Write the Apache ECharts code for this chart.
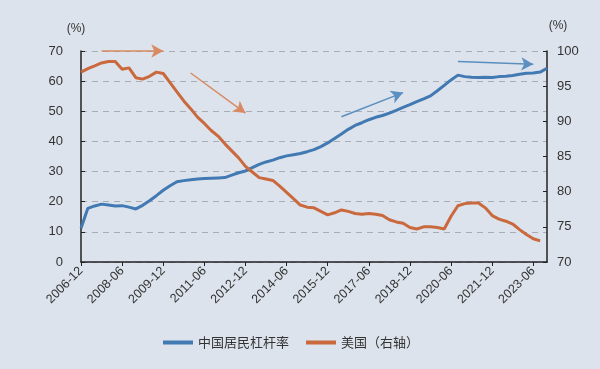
<!DOCTYPE html>
<html>
<head>
<meta charset="utf-8">
<script src="https://cdn.jsdelivr.net/npm/echarts@6/dist/echarts.min.js"></script>
<style>
html,body{margin:0;padding:0;background:#dde3ec;}
#c{width:600px;height:369px;}
</style>
</head>
<body>
<div id="c"></div>
<script>
const categories = [
'2006-12','2007-03','2007-06','2007-09','2007-12','2008-03','2008-06','2008-09','2008-12',
'2009-03','2009-06','2009-09','2009-12','2010-03','2010-06','2010-09','2010-12',
'2011-03','2011-06','2011-09','2011-12','2012-03','2012-06','2012-09','2012-12',
'2013-03','2013-06','2013-09','2013-12','2014-03','2014-06','2014-09','2014-12',
'2015-03','2015-06','2015-09','2015-12','2016-03','2016-06','2016-09','2016-12',
'2017-03','2017-06','2017-09','2017-12','2018-03','2018-06','2018-09','2018-12',
'2019-03','2019-06','2019-09','2019-12','2020-03','2020-06','2020-09','2020-12',
'2021-03','2021-06','2021-09','2021-12','2022-03','2022-06','2022-09','2022-12',
'2023-03','2023-06','2023-09','2023-12'
];
const chinaLeverage = [
11.2,17.8,18.6,19.2,18.9,18.6,18.7,18.2,17.6,
18.8,20.3,22.0,23.8,25.3,26.6,27.0,27.3,
27.5,27.7,27.8,27.9,28.0,28.8,29.6,30.2,
31.3,32.4,33.2,33.8,34.6,35.2,35.6,36.0,
36.6,37.3,38.3,39.5,41.0,42.5,44.0,45.3,
46.2,47.2,48.0,48.6,49.4,50.3,51.3,52.2,
53.2,54.1,55.1,56.8,58.6,60.4,62.0,61.5,
61.3,61.2,61.3,61.2,61.5,61.6,61.9,62.3,
62.6,62.7,63.0,64.3
];
const usLeverage = [
97.0,97.5,97.9,98.3,98.5,98.5,97.4,97.6,96.2,
96.0,96.4,97.0,96.8,95.5,94.2,92.9,91.8,
90.6,89.7,88.7,87.9,86.8,85.8,84.8,83.6,
82.8,82.0,81.8,81.6,80.8,79.9,79.0,78.1,
77.8,77.7,77.2,76.7,77.0,77.4,77.2,76.9,
76.8,76.9,76.8,76.6,76.0,75.7,75.5,74.9,
74.7,75.0,75.0,74.9,74.7,76.5,78.0,78.3,
78.4,78.4,77.7,76.6,76.1,75.8,75.4,74.6,
73.9,73.3,73.0,null
];
const leftTicks = {min:0, max:70, interval:10};
const rightTicks = {min:70, max:100, interval:5};
const seriesNames = ['中国居民杠杆率','美国（右轴）'];
// trend arrows: [fromCategory, fromLeftValue, toCategory, toLeftValue, colorKey]
const arrows = [
  ['2007-09',70,'2009-12',70,'o'],
  ['2010-12',62.7,'2012-12',49.4,'o'],
  ['2016-06',48.2,'2018-09',56.2,'b'],
  ['2020-09',66.5,'2023-06',65.6,'b']
];

const BLUE = '#4179b3', ORANGE = '#c9693d';
const ARROW_COL = {o:'#d98a62', b:'#5a8fc0'};
const chart = echarts.init(document.getElementById('c'), null, {renderer:'canvas'});
const font = 'Liberation Sans, Arial, sans-serif';
chart.setOption({
  animation:false,
  backgroundColor:'#dde3ec',
  grid:{left:81, right:53, top:51, bottom:107},
  legend:{
    bottom:15, left:158, itemGap:17, itemWidth:30, itemHeight:4, icon:'rect',
    textStyle:{color:'#333', fontSize:13, fontFamily:'Noto Sans CJK SC'},
    data:seriesNames
  },
  xAxis:{
    type:'category', data:categories, boundaryGap:false,
    axisLine:{lineStyle:{color:'#222', width:1.5}},
    axisTick:{interval:5, length:4, lineStyle:{color:'#222'}},
    axisLabel:{interval:5, rotate:45, color:'#333', fontSize:12.5, fontFamily:font, margin:7},
    splitLine:{show:false}
  },
  yAxis:[
    {type:'value', min:leftTicks.min, max:leftTicks.max, interval:leftTicks.interval,
     name:'(%)', nameGap:16, nameTextStyle:{color:'#333', fontSize:12, align:'center', padding:[0,0,0,-10]},
     axisLine:{show:true, lineStyle:{color:'#222', width:1.5}},
     axisTick:{show:true, inside:true, length:4, lineStyle:{color:'#222'}},
     axisLabel:{color:'#333', fontSize:13, fontFamily:font, margin:18},
     splitLine:{show:true, lineStyle:{color:'#a8acb4', type:[6,5], width:1}}},
    {type:'value', min:rightTicks.min, max:rightTicks.max, interval:rightTicks.interval,
     name:'(%)', nameGap:19, nameTextStyle:{color:'#333', fontSize:12, align:'center', padding:[0,-22,0,0]},
     axisLine:{show:true, lineStyle:{color:'#222', width:1.5}},
     axisTick:{show:true, inside:true, length:4, lineStyle:{color:'#222'}},
     axisLabel:{color:'#333', fontSize:13, fontFamily:font, margin:10},
     splitLine:{show:false}}
  ],
  series:[
    {name:seriesNames[0], type:'line', data:chinaLeverage, yAxisIndex:0,
     showSymbol:false, lineStyle:{color:BLUE, width:3}, itemStyle:{color:BLUE},
     markLine:{
       silent:true, symbol:['none','arrow'], symbolSize:[10,12], label:{show:false},
       data: arrows.map(a => [
         {coord:[a[0],a[1]], lineStyle:{color:ARROW_COL[a[4]], width:1.5, type:'solid'}, itemStyle:{color:ARROW_COL[a[4]]}},
         {coord:[a[2],a[3]]}
       ])
     }},
    {name:seriesNames[1], type:'line', data:usLeverage, yAxisIndex:1,
     showSymbol:false, lineStyle:{color:ORANGE, width:3}, itemStyle:{color:ORANGE}}
  ]
});
</script>
</body>
</html>
